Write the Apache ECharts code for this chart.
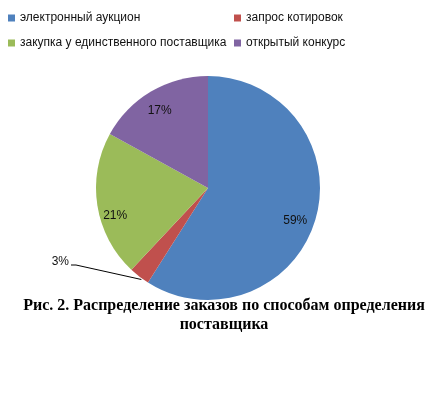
<!DOCTYPE html>
<html>
<head>
<meta charset="utf-8">
<script src="https://cdn.jsdelivr.net/npm/echarts@6/dist/echarts.min.js"></script>
<style>html,body{margin:0;padding:0;background:#fff}#c{width:440px;height:396px}</style>
</head>
<body>
<div id="c"></div>
<script>
const categories = ['электронный аукцион', 'запрос котировок', 'закупка у единственного поставщика', 'открытый конкурс'];
const values = [59, 3, 21, 17];
const colors = ['#4F81BD', '#C0504D', '#9BBB59', '#8064A2'];
const titleText = 'Рис. 2. Распределение заказов по способам определения\nпоставщика';

const pieData = categories.map((n, i) => ({ name: n, value: values[i], itemStyle: { color: colors[i] } }));
const outsideIdx = 1;
// small label nudges (styling) to mimic the original label placement
const innerLabelShift = { 0: [-4, 6], 2: [1, 13], 3: [0, 4] };

const chart = echarts.init(document.getElementById('c'), null, { renderer: 'canvas' });
const legendText = { fontFamily: 'Liberation Sans', fontSize: 12, color: '#111', lineHeight: 14 };
chart.setOption({
  animation: false,
  title: {
    text: titleText,
    left: 224,
    top: 296,
    padding: 0,
    textAlign: 'center',
    textStyle: { fontFamily: 'Liberation Serif', fontWeight: 'bold', fontSize: 16, lineHeight: 19, color: '#000' }
  },
  legend: [
    { orient: 'vertical', left: 8, top: 11, padding: 0, itemGap: 11, itemWidth: 7, itemHeight: 7, icon: 'rect',
      data: [categories[0], categories[2]], textStyle: legendText, selectedMode: false },
    { orient: 'vertical', left: 234, top: 11, padding: 0, itemGap: 11, itemWidth: 7, itemHeight: 7, icon: 'rect',
      data: [categories[1], categories[3]], textStyle: legendText, selectedMode: false }
  ],
  series: [
    {
      type: 'pie', center: [208, 188], radius: [0, 112], startAngle: 90, clockwise: true,
      data: pieData.map((d, i) => Object.assign({}, d, {
        label: { show: i === outsideIdx },
        labelLine: { show: i === outsideIdx }
      })),
      label: { position: 'outside', formatter: '{d}%', fontFamily: 'Liberation Sans', fontSize: 12, color: '#111' },
      labelLine: { show: true, length: 6, length2: 60, lineStyle: { color: '#000', width: 1 } },
      labelLayout: function (p) {
        if (p.dataIndex === outsideIdx && p.labelLinePoints) {
          const anchor = p.labelLinePoints[0];
          return {
            x: 69, y: 262, align: 'right', verticalAlign: 'middle',
            labelLinePoints: [[anchor[0] + 2, anchor[1] + 3], [76, 265], [71, 265]]
          };
        }
        return {};
      },
      itemStyle: { borderWidth: 0 },
      emphasis: { disabled: true }
    },
    {
      type: 'pie', center: [208, 188], radius: [72, 112], startAngle: 90, clockwise: true, silent: true,
      data: pieData.map((d, i) => ({ name: d.name, value: d.value, itemStyle: { color: 'rgba(0,0,0,0)' },
        label: { show: i !== outsideIdx } })),
      label: { position: 'inside', formatter: '{d}%', fontFamily: 'Liberation Sans', fontSize: 12, color: '#111' },
      labelLine: { show: false },
      labelLayout: function (p) {
        const s = innerLabelShift[p.dataIndex];
        return s ? { dx: s[0], dy: s[1] } : {};
      },
      emphasis: { disabled: true },
      z: 3
    }
  ]
});
</script>
</body>
</html>
